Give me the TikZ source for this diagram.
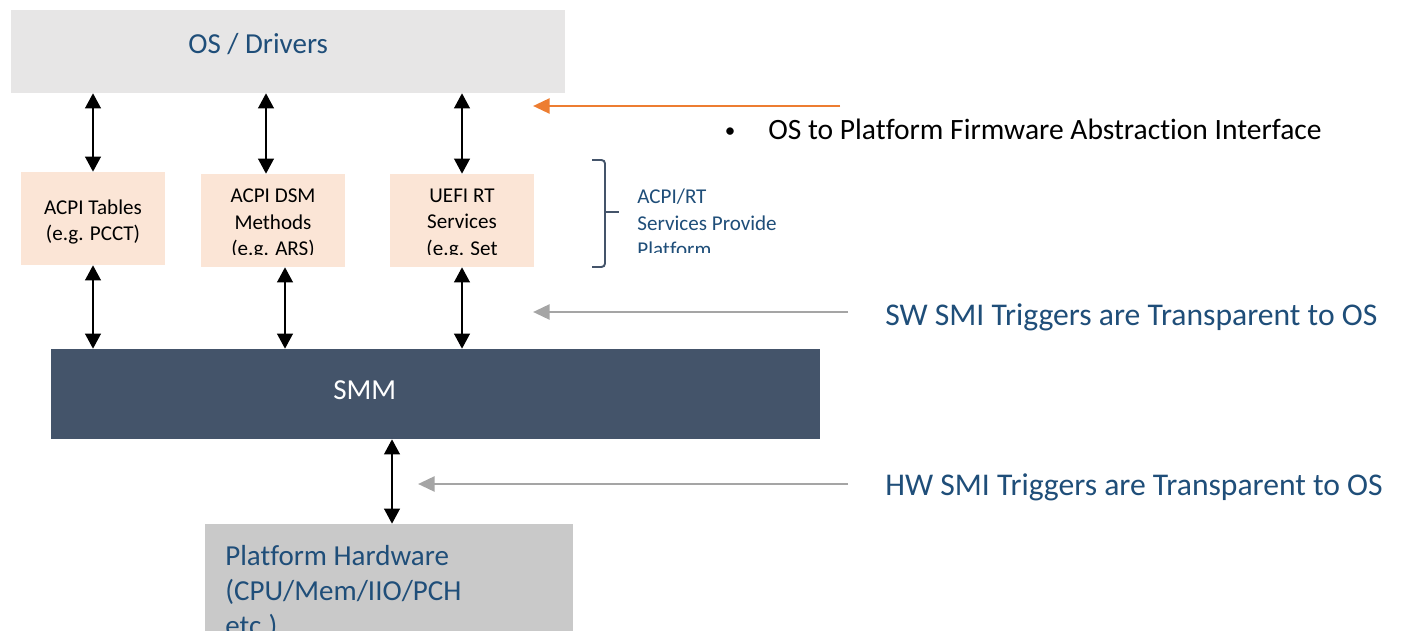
\documentclass[tikz,border=0pt]{standalone}
\usepackage{fontspec}
\setmainfont{Carlito}[Ligatures=NoCommon]
\usetikzlibrary{arrows.meta}

\definecolor{osgray}{HTML}{E7E6E6}
\definecolor{peach}{HTML}{FBE5D6}
\definecolor{slate}{HTML}{44546A}
\definecolor{hwgray}{HTML}{C9C9C9}
\definecolor{navy}{HTML}{1F4E79}
\definecolor{orng}{HTML}{ED7D31}
\definecolor{arrgray}{HTML}{A5A5A5}

\tikzset{
  blk/.style={shape=rectangle,inner sep=0pt,draw=none},
  fw/.style={blk,fill=peach,minimum width=2.88cm,minimum height=1.86cm},
  dbl/.style={{Triangle[width=9pt,length=8.5pt]}-{Triangle[width=9pt,length=8.5pt]},line width=0.7pt,black},
  ptr/.style={-{Triangle[width=8.5pt,length=9.5pt]},line width=1.6pt},
  big/.style={font=\fontsize{18}{22}\selectfont,inner sep=0pt},
  mid/.style={font=\fontsize{16.5}{19.9}\selectfont,inner sep=0pt},
  small/.style={font=\fontsize{12}{15}\selectfont,align=center,inner sep=0pt},
}

\begin{document}
\begin{tikzpicture}[x=0.02cm,y=-0.02cm]
    \clip (0,0) rectangle (1405,631);
    \fill[white] (0,0) rectangle (1405,631);
    % boxes
    \node[blk,fill=osgray,minimum width=11.08cm,minimum height=1.66cm] (A) at (288,51.5) {};
    \node[fw] (B) at (93,218.5) {};
    \node[fw] (C) at (273,220.5) {};
    \node[fw] (D) at (462,220.5) {};
    \node[blk,fill=slate,minimum width=15.38cm,minimum height=1.8cm] (E) at (435.5,394) {};
    \node[blk,fill=hwgray,minimum width=7.36cm,minimum height=3.12cm] (F) at (389,602) {};
    % box texts
    \node[mid,text=navy,anchor=base west] (A1) at (188,54) {OS / Drivers};
    \node[small] (B1) at (93,222) {ACPI Tables\\(e.g. PCCT)};
    \begin{scope}
      \clip (201,174) rectangle (345,255);
      \node[small] (C1) at (273,224) {ACPI DSM\\Methods\\(e.g. ARS)};
    \end{scope}
    \begin{scope}
      \clip (390,174) rectangle (534,255);
      \node[small] (D1) at (462,224) {UEFI RT\\Services\\(e.g. Set};
    \end{scope}
    \node[mid,text=white,anchor=base west] (E1) at (333,399) {SMM};
    \node[mid,text=navy,align=left,anchor=base west] (F1) at (225,635) {Platform Hardware\\(CPU/Mem/IIO/PCH\\etc.)};
    % columns of the arrows
    \coordinate (p) at (266,0);
    \coordinate (q) at (285,0);
    \coordinate (r) at (392,0);
    \path [dbl] (A.south -| B) edge (B.north);
    \path [dbl] (A.south -| p) edge (C.north -| p);
    \path [dbl] (A.south -| D) edge (D.north);
    \path [dbl] (B.south) edge (E.north -| B);
    \path [dbl] (C.south -| q) edge (E.north -| q);
    \path [dbl] (D.south) edge (E.north -| D);
    \path [dbl] (E.south -| r) edge (F.north -| r);
    % brace and its note
    \draw[slate,line width=1.1pt,rounded corners=2pt] (592,160) -- (605,160) -- (605,267) -- (592,267);
    \draw[slate,line width=1.1pt] (605,212) -- (619,212);
    \begin{scope}
      \clip (620,170) rectangle (900,253);
      \node[small,align=left,text=navy,anchor=west] (G) at (637,223) {ACPI/RT\\Services Provide\\Platform};
    \end{scope}
    % pointers on the right
    \coordinate (o1) at (840,106);
    \coordinate (o2) at (533,106);
    \coordinate (s1) at (848,312);
    \coordinate (s2) at (533,312);
    \coordinate (h1) at (848,484);
    \coordinate (h2) at (418,484);
    \draw[ptr,orng] (o1) -- (o2);
    \draw[ptr,arrgray] (s1) -- (s2);
    \draw[ptr,arrgray] (h1) -- (h2);
    \node[big,anchor=base,font=\fontsize{12}{14}\selectfont] (H0) at (730,138) {\textbullet};
    \node[big,anchor=base west,font=\fontsize{16.8}{20}\selectfont] (H) at (768,140) {OS to Platform Firmware Abstraction Interface};
    \node[big,text=navy,anchor=base west] (I) at (885,325) {SW SMI Triggers are Transparent to OS};
    \node[big,text=navy,anchor=base west] (J) at (885,495) {HW SMI Triggers are Transparent to OS};
\end{tikzpicture}
\end{document}
